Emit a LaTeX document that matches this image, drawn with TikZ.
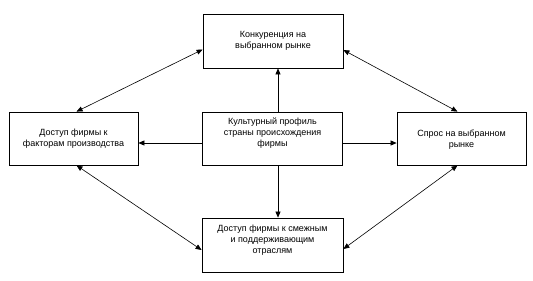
\documentclass[tikz,border=0pt]{standalone}
\usepackage{fontspec}
\setmainfont{Liberation Sans}
\usetikzlibrary{arrows.meta}
\newcommand{\boxtext}[2]{\raisebox{#1}[\height][\depth]{\begin{tabular}{@{}c@{}}#2\end{tabular}}}
\begin{document}
\begin{tikzpicture}[x=1pt,y=-1pt,
  box/.style={draw,line width=0.8pt,inner sep=0pt,font=\fontsize{9}{11}\selectfont},
  link/.style={line width=0.6pt,-{Triangle[length=6pt,width=5pt]}},
  both/.style={line width=0.6pt,{Triangle[length=6pt,width=5pt]}-{Triangle[length=6pt,width=5pt]}}]
\useasboundingbox (0,0) rectangle (533,281);
\node[box,minimum width=140pt,minimum height=54pt] (top) at (273,41)
  {\boxtext{0pt}{Конкуренция на\\выбранном рынке}};
\node[box,minimum width=129pt,minimum height=53pt] (left) at (73.5,138.5)
  {\boxtext{0pt}{Доступ фирмы к\\факторам производства}};
\node[box,minimum width=140pt,minimum height=53pt] (cen) at (272.5,138.5)
  {\boxtext{5.5pt}{Культурный профиль\\страны происхождения\\фирмы}};
\node[box,minimum width=129pt,minimum height=53pt] (right) at (461.5,138.5)
  {\boxtext{-1pt}{Спрос на выбранном\\рынке}};
\node[box,minimum width=141pt,minimum height=54pt] (bot) at (272.5,245)
  {\boxtext{4.5pt}{Доступ фирмы к смежным\\и поддерживающим\\отраслям}};
\draw[link] ([xshift=5.5pt]cen.north) -- ([xshift=5pt]top.south);
\draw[link] ([xshift=5.5pt]cen.south) -- ([xshift=5.5pt]bot.north);
\draw[link] ([yshift=-4.5pt]cen.west) -- ([yshift=-4.5pt]left.east);
\draw[link] ([yshift=-4.5pt]cen.east) -- ([yshift=-4.5pt]right.west);
\draw[both] ([yshift=-8.5pt]top.west) -- ([xshift=3pt]left.north);
\draw[both] ([yshift=-9pt]top.east) -- ([xshift=-4pt]right.north);
\draw[both] ([xshift=3pt]left.south) -- ([yshift=-5pt]bot.west);
\draw[both] ([xshift=-4pt]right.south) -- ([yshift=-4pt]bot.east);
\end{tikzpicture}
\end{document}
